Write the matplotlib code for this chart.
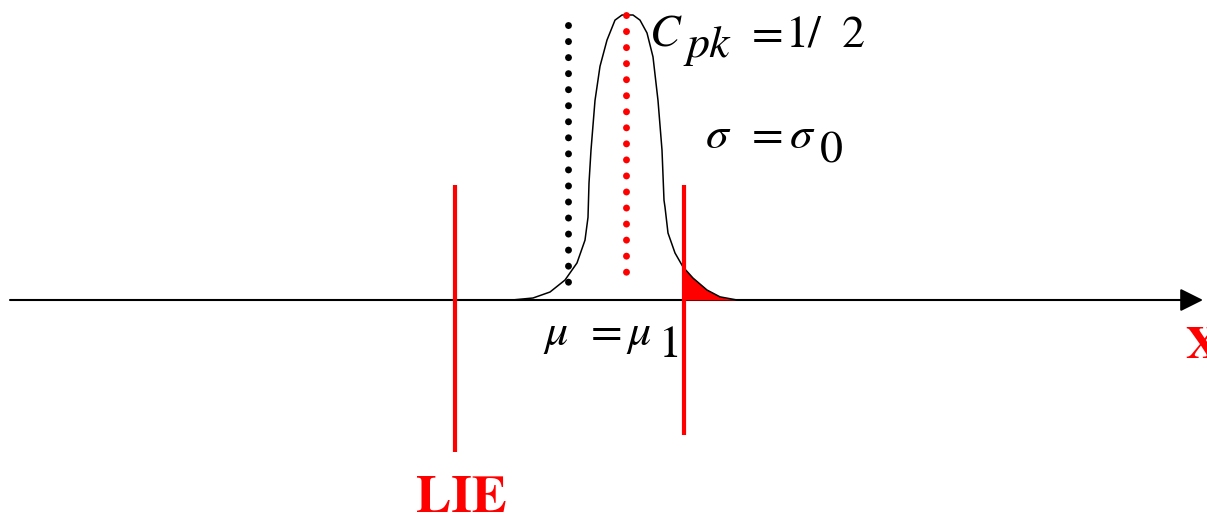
import numpy as np
import matplotlib.pyplot as plt

# process parameters (horizontal units of the drawing)
mu_target = 568.0      # centre of the tolerance interval (black dotted)
mu_1 = 626.0           # shifted process mean (red dotted)
lie = 455.0            # lower specification limit
lse = 684.0            # upper specification limit

# hand-drawn bell curve of the process: offset from mu_1, relative height
curve_dx = [-114, -93, -76, -61, -49, -41, -38, -37, -35, -31, -26, -19, -11, -4,
            7, 14, 21, 27, 32, 36, 38, 39, 42, 49, 57, 67, 81, 94, 111]
curve_h = [0.0, 0.007, 0.028, 0.07, 0.13, 0.21, 0.29, 0.41, 0.526, 0.70, 0.82,
           0.912, 0.982, 1.0, 1.0, 0.982, 0.937, 0.853, 0.70, 0.526, 0.35,
           0.326, 0.235, 0.165, 0.116, 0.077, 0.035, 0.011, 0.0]

# vertical extent of the spec-limit bars (curve peak = 1)
lie_bar = [0.4035, -0.533]
lse_bar = [0.4035, -0.474]
# extent of the dotted centre lines
target_span = [0.965, 0.0105]
mean_span = [1.0, 0.0526]

fig = plt.figure(figsize=(12.07, 5.17), dpi=100)
ax = fig.add_axes([0, 0, 1, 1])
ax.set_xlim(0, 1207)
ax.set_ylim(-217 / 285, 300 / 285)
ax.axis('off')

x = mu_1 + np.array(curve_dx, dtype=float)
y = np.array(curve_h)
ax.plot(x, y, color='black', lw=1.1, solid_joinstyle='round', zorder=3)

# out-of-spec fraction above the upper limit
right = x > lse
fx = np.concatenate([[lse], x[right]])
fy = np.concatenate([[np.interp(lse, x, y)], y[right]])
ax.fill_between(fx, 0, fy, color='red', lw=0, zorder=2)

# horizontal axis with arrow
ax.annotate('', xy=(1203, 0), xytext=(10, 0),
            arrowprops=dict(arrowstyle='-|>,head_length=0.5,head_width=0.25',
                            mutation_scale=28, lw=1.5, color='black',
                            shrinkA=0, shrinkB=0), zorder=1)

# spec limits
ax.plot([lie, lie], lie_bar, color='red', lw=3, solid_capstyle='butt', zorder=4)
ax.plot([lse, lse], lse_bar, color='red', lw=3, solid_capstyle='butt', zorder=4)

# dotted centre lines
ax.plot([mu_target, mu_target], target_span, color='black', lw=5,
        linestyle=(0, (0.01, 2.3)), dash_capstyle='round', zorder=3)
ax.plot([mu_1, mu_1], mean_span, color='red', lw=5,
        linestyle=(0, (0.01, 2.3)), dash_capstyle='round', zorder=3)

serif = 'STIXGeneral'
fs = 33
# C_pk = 1/2
ax.text(650, 0.888, 'C', fontfamily=serif, style='italic', size=fs, va='baseline')
ax.text(686, 0.853, 'pk', fontfamily=serif, style='italic', size=fs, va='baseline')
ax.text(752, 0.888, '=', fontfamily=serif, size=fs, va='baseline')
ax.text(786, 0.888, '1/', fontfamily=serif, size=fs, va='baseline')
ax.text(842, 0.888, '2', fontfamily=serif, size=fs, va='baseline')

# sigma = sigma_0
ax.text(706, 0.533, '\u03c3', fontfamily=serif, style='italic', size=fs, va='baseline')
ax.text(752, 0.533, '=', fontfamily=serif, size=fs, va='baseline')
ax.text(790, 0.533, '\u03c3', fontfamily=serif, style='italic', size=fs, va='baseline')
ax.text(820, 0.484, '0', fontfamily=serif, size=fs, va='baseline')

# mu = mu_1
ax.text(545, -0.158, '\u03bc', fontfamily=serif, style='italic', size=fs, va='baseline')
ax.text(591, -0.158, '=', fontfamily=serif, size=fs, va='baseline')
ax.text(628, -0.158, '\u03bc', fontfamily=serif, style='italic', size=fs, va='baseline')
ax.text(659, -0.200, '1', fontfamily=serif, size=fs, va='baseline')

# axis labels
ax.text(416, -0.744, 'LIE', fontfamily=serif, weight='bold', size=38,
        color='red', va='baseline')
ax.text(1185, -0.2035, 'X', fontfamily=serif, weight='bold', size=34,
        color='red', va='baseline')

fig.savefig('out.png', dpi=100)
